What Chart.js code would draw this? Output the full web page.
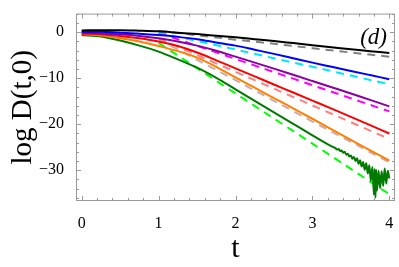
<!DOCTYPE html>
<html>
<head>
    <title>log D(t,0)</title>
    <script src="https://cdn.jsdelivr.net/npm/chart.js"></script>
    <style>
        body { margin: 0; background: #fff; }
        canvas { display: block; }
    </style>
</head>
<body>
    <canvas id="myChart" width="399" height="267"></canvas>

    <script>
        // times for the solid curves
        const tSolid = [0, 0.25, 0.5, 0.75, 1, 1.25, 1.5, 1.75, 2, 2.25, 2.5, 2.75, 3, 3.25, 3.5, 3.75, 4];
        const blackVals  = [0.4, 0.45, 0.45, 0.35, 0.2, -0.1, -0.4, -0.75, -1.1, -1.5, -1.9, -2.35, -2.8, -3.25, -3.7, -4.1, -4.5];
        const blueVals   = [0.1, 0.1, -0.1, -0.3, -0.6, -1.0, -1.5, -2.2, -2.9, -3.8, -4.7, -5.65, -6.6, -7.5, -8.4, -9.3, -10.2];
        const purpleVals = [-0.1, -0.2, -0.45, -0.8, -1.3, -2.0, -2.9, -4.0, -5.3, -6.6, -7.9, -9.25, -10.6, -11.95, -13.3, -14.7, -16.1];
        const redVals    = [-0.3, -0.45, -0.8, -1.3, -2.0, -3.0, -4.4, -6.1, -7.85, -9.6, -11.35, -13.1, -14.85, -16.6, -18.4, -20.2, -22.0];
        const orangeVals = [-0.4, -0.7, -1.3, -2.0, -3.0, -4.1, -5.5, -7.5, -9.8, -12.05, -14.3, -16.55, -18.8, -21.1, -23.4, -25.65, -27.9];

        // green curve, noisy at late times
        const tGreen = [0, 0.25, 0.5, 0.75, 1, 1.25, 1.5, 1.75, 2, 2.25, 2.5, 2.75, 3, 3.25,
            3.3, 3.32, 3.34, 3.36, 3.38, 3.4, 3.42, 3.44, 3.46, 3.48, 3.5, 3.52, 3.54, 3.56, 3.58,
            3.6, 3.62, 3.64, 3.66, 3.68, 3.7, 3.72, 3.74, 3.76, 3.78, 3.8, 3.81, 3.82, 3.83, 3.84,
            3.86, 3.88, 3.9, 3.92, 3.94, 3.96, 3.98, 4];
        const greenVals = [-0.6, -0.9, -1.8, -2.9, -4.2, -5.9, -7.7, -9.9, -12.4, -14.9, -17.4, -19.9, -22.4, -24.8,
            -25.2, -25.5, -25.4, -25.8, -25.7, -26.2, -26.0, -26.6, -26.4, -27.0, -26.8, -27.5, -27.1, -28.0, -27.4,
            -28.6, -27.8, -29.2, -28.2, -29.9, -28.5, -30.7, -28.9, -32.3, -29.3, -35.3, -29.7, -35.9, -29.9, -34.4,
            -30.1, -33.9, -30.2, -33.4, -29.6, -32.9, -30.1, -31.8];

        // dashed curves start at t = 1
        const tDashed = [1, 1.5, 2, 2.5, 3, 3.5, 4];
        const grayVals    = [0.3, -0.65, -1.6, -2.5, -3.45, -4.4, -5.3];
        const cyanVals    = [0.0, -1.9, -3.75, -5.65, -7.5, -9.4, -11.3];
        const magentaVals = [-0.1, -2.95, -5.8, -8.65, -11.5, -14.35, -17.2];
        const salmonVals  = [-1.3, -4.95, -8.6, -12.25, -15.9, -19.55, -23.2];
        const rosyVals    = [-1.5, -6.0, -10.4, -14.9, -19.4, -23.8, -28.3];
        const limeVals    = [-2.3, -7.8, -13.3, -18.75, -24.2, -29.7, -35.2];

        // tick labels
        const xTicks = [0, 1, 2, 3, 4];
        const yTicks = [0, -10, -20, -30];

        const pts = (ts, vs) => ts.map((t, i) => ({ x: t, y: vs[i] }));

        function solid(label, ts, vs, color) {
            return { label: label, data: pts(ts, vs), borderColor: color, borderWidth: 2,
                pointRadius: 0, fill: false, cubicInterpolationMode: 'monotone' };
        }
        function dashed(label, vs, color) {
            return { label: label, data: pts(tDashed, vs), borderColor: color, borderWidth: 2,
                borderDash: [8, 6], pointRadius: 0, fill: false };
        }

        const serif = '"Liberation Serif", "DejaVu Serif", serif';

        // frame with inward ticks on all four sides, plus the (d) label
        const framePlugin = {
            id: 'frame',
            afterDraw(chart) {
                const ctx = chart.ctx;
                const a = chart.chartArea;
                const xs = chart.scales.x, ys = chart.scales.y;
                ctx.save();
                ctx.strokeStyle = '#9a9a9a';
                ctx.lineWidth = 1;
                ctx.strokeRect(a.left + 0.5, a.top + 0.5, a.right - a.left - 1, a.bottom - a.top - 1);
                ctx.beginPath();
                for (let i = 0; i <= 20; i++) {
                    const v = i * 0.2;
                    const px = Math.round(xs.getPixelForValue(v)) + 0.5;
                    const len = (i % 5 === 0) ? 5 : 3;
                    ctx.moveTo(px, a.bottom); ctx.lineTo(px, a.bottom - len);
                    ctx.moveTo(px, a.top); ctx.lineTo(px, a.top + len);
                }
                for (let v = -36; v <= 4; v += 2) {
                    const py = Math.round(ys.getPixelForValue(v)) + 0.5;
                    const len = (v % 10 === 0) ? 5 : 3;
                    ctx.moveTo(a.left, py); ctx.lineTo(a.left + len, py);
                    ctx.moveTo(a.right, py); ctx.lineTo(a.right - len, py);
                }
                ctx.stroke();
                ctx.fillStyle = '#000';
                ctx.font = 'italic 23px ' + serif;
                ctx.textAlign = 'right';
                ctx.textBaseline = 'alphabetic';
                ctx.fillText('(d)', a.right - 8, a.top + 30);
                ctx.restore();
            }
        };

        const ctx = document.getElementById('myChart').getContext('2d');
        const myChart = new Chart(ctx, {
            type: 'line',
            data: {
                datasets: [
                    solid('black', tSolid, blackVals, '#000000'),
                    solid('blue', tSolid, blueVals, '#0000ff'),
                    solid('purple', tSolid, purpleVals, '#8a00a0'),
                    solid('red', tSolid, redVals, '#ff0000'),
                    solid('orange', tSolid, orangeVals, '#ff8000'),
                    solid('green', tGreen, greenVals, '#007a00'),
                    dashed('gray', grayVals, '#808080'),
                    dashed('cyan', cyanVals, '#00e5ff'),
                    dashed('magenta', magentaVals, '#ff00ff'),
                    dashed('salmon', salmonVals, '#ff8080'),
                    dashed('rosy', rosyVals, '#ccaaaa'),
                    dashed('lime', limeVals, '#00ff00')
                ]
            },
            options: {
                responsive: false,
                animation: false,
                devicePixelRatio: 1,
                layout: { padding: { top: 3, right: 4, left: 0, bottom: 0 } },
                plugins: { legend: { display: false }, tooltip: { enabled: false } },
                scales: {
                    x: {
                        type: 'linear',
                        min: -0.074, max: 4.074,
                        afterFit: s => { s.height = 66; },
                        afterBuildTicks: s => { s.ticks = xTicks.map(v => ({ value: v })); },
                        grid: { display: false },
                        border: { display: false },
                        ticks: { color: '#000', padding: 5, font: { family: serif, size: 16 }, maxRotation: 0 },
                        title: { display: true, text: 't', color: '#000', padding: { top: 0, bottom: 0 },
                            font: { family: serif, size: 30 } }
                    },
                    y: {
                        type: 'linear',
                        min: -36.68, max: 4.06,
                        afterFit: s => { s.width = 76; },
                        afterBuildTicks: s => { s.ticks = yTicks.map(v => ({ value: v })); },
                        grid: { display: false },
                        border: { display: false },
                        ticks: { color: '#000', padding: 4, font: { family: serif, size: 16 },
                            callback: v => v < 0 ? '\u2212' + Math.abs(v) : String(v) },
                        title: { display: true, text: 'log D(t,0)', color: '#000', padding: { top: 6, bottom: 0 },
                            font: { family: serif, size: 29 } }
                    }
                }
            },
            plugins: [framePlugin]
        });
    </script>
</body>
</html>
